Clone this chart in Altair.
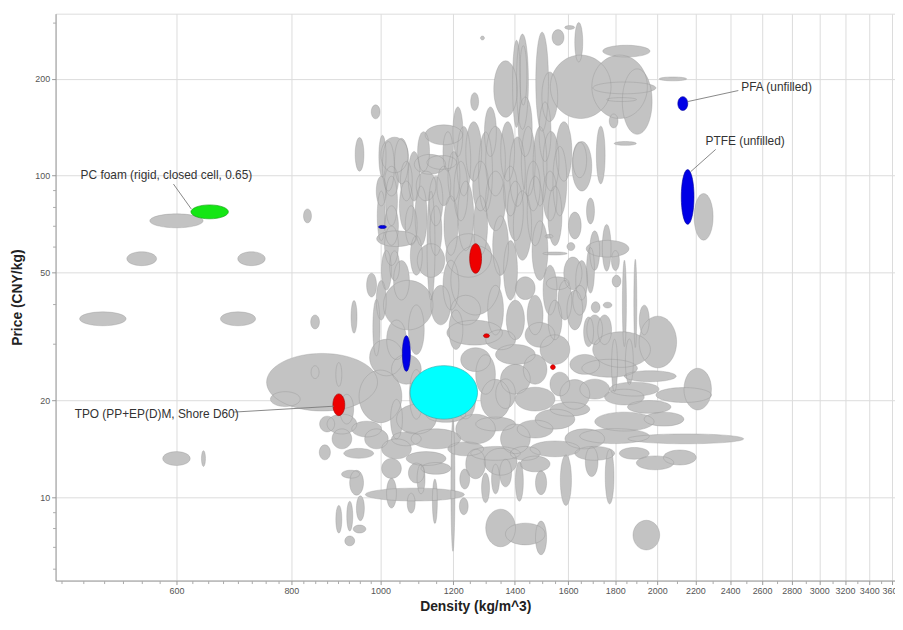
import altair as alt
import pandas as pd

# Each material: (density kg/m^3, price CNY/kg, density spread %, price spread %)
isolated = [
    (600, 72.4, 6.9, 5.1), (550, 55.2, 3.8, 5.1), (724, 55.2, 3.5, 5.1),
    (499, 35.9, 6.0, 5.1), (700, 35.9, 4.5, 5.1), (833, 75.0, 1.0, 5.1),
    (849, 35.1, 1.1, 5.1), (600, 13.2, 3.5, 5.1), (642, 13.2, 0.5, 5.8),
    (1291, 268, 0.5, 1.4), (988, 158, 1.1, 5.1), (1266, 170, 1.0, 6.6),
    (949, 116.5, 1.1, 12.8), (2246, 74.5, 2.4, 18.2), (2080, 200, 3.5, 1.4),
    (1946, 7.63, 3.4, 11.2),
]
upper_right = [
    (1651, 189, 7.9, 25.5), (1820, 189, 7.2, 25.5), (1902, 170, 3.8, 26.4),
    (1842, 187.5, 8.2, 4.3), (1851, 244, 6.1, 4.3), (1829, 172.5, 3.8, 1.4),
    (1793, 148, 1.1, 5.1), (1846, 126, 2.8, 1.4), (1736, 116, 1.1, 22.9),
    (1643, 260, 1.0, 15.2), (1560, 269, 1.5, 5.8), (1606, 289, 1.25, 1.4),
    (1499, 196, 1.6, 42.6), (1528, 176, 2.0, 19.4), (1583, 119, 2.0, 23.7),
    (1647, 112, 1.75, 13.6), (1427, 196, 1.5, 40.6), (1656, 107, 2.5, 19.4),
    (1368, 186, 3.0, 22.4), (1406, 193, 1.0, 36.6), (1430, 205, 0.9, 23.7),
]
upper_band = [
    (1172, 134, 4.8, 7.4), (1132, 108.5, 4.0, 7.4), (1166, 110, 3.8, 5.1),
    (1036, 116, 3.5, 13.6), (1005, 115, 0.9, 16.1), (1232, 111, 1.75, 28.2),
    (1263, 119, 2.0, 23.7), (1301, 103, 1.75, 32.8), (1334, 111, 2.5, 28.2),
    (1375, 119, 1.75, 23.7), (1409, 103, 2.0, 28.2), (1448, 111, 1.75, 28.2),
    (1491, 107, 1.75, 32.8), (1533, 111, 2.0, 23.7), (1567, 96.2, 1.75, 28.2),
    (1202, 99.6, 1.5, 19.4), (1172, 92.9, 1.75, 15.2), (1334, 83.5, 2.5, 23.7),
    (1402, 77.7, 2.0, 23.7), (1473, 77.7, 2.0, 28.2), (1548, 75.0, 1.75, 23.7),
    (1238, 75.0, 2.0, 28.2), (1285, 70.0, 1.75, 23.7), (1193, 70.0, 1.75, 23.7),
    (1149, 67.5, 1.5, 19.4), (1107, 75.0, 1.5, 23.7), (1067, 80.6, 1.75, 19.4),
    (1028, 83.5, 1.5, 19.4), (1002, 75.0, 1.0, 19.4), (1028, 96.2, 1.75, 11.2),
    (1067, 96.2, 1.5, 15.2), (1121, 92.9, 2.5, 11.2), (1002, 89.6, 1.25, 11.2),
    (1020, 107, 1.5, 19.4), (1054, 111, 1.75, 17.7), (1088, 99.6, 1.5, 19.4),
    (1114, 119, 1.5, 15.2), (1149, 83.5, 1.75, 19.4), (1184, 119, 1.25, 15.2),
    (1223, 89.6, 1.75, 23.7), (1080, 70.0, 1.5, 15.2), (1028, 70.0, 1.75, 15.2),
    (1214, 137, 1.25, 19.4), (1317, 137, 1.5, 19.4), (1437, 142, 1.75, 23.7),
    (1510, 137, 1.5, 23.7), (1285, 92.9, 2.0, 19.4), (1385, 89.6, 1.75, 19.4),
    (1466, 92.9, 1.75, 19.4), (1529, 86.5, 1.75, 19.4),
]
middle_band = [
    (1015, 50.8, 1.25, 15.2), (1041, 63.7, 5.1, 5.8), (1072, 39.6, 6.4, 19.4),
    (1135, 54.5, 3.5, 12.8), (1135, 60.6, 1.0, 47.7), (1247, 56.5, 5.9, 16.9),
    (1269, 47.3, 6.4, 28.2), (1351, 60.6, 2.0, 23.7), (1385, 50.8, 1.75, 23.7),
    (1427, 70.0, 2.3, 28.2), (1437, 44.7, 2.5, 8.5), (1491, 58.5, 2.0, 23.7),
    (1529, 44.1, 1.75, 19.4), (1559, 46.3, 2.9, 4.7), (1619, 49.7, 2.3, 12.4),
    (1627, 70.0, 1.6, 10.1), (1692, 77.7, 1.0, 9.7), (1692, 50.8, 1.0, 17.7),
    (1766, 59.3, 5.5, 6.2), (1762, 59.7, 1.1, 18.2), (1801, 54.5, 1.0, 7.4),
    (1806, 47.0, 1.1, 4.3), (1842, 40.1, 0.5, 36.2), (1893, 40.1, 0.37, 37.1),
    (1714, 39.0, 1.1, 4.0), (1766, 39.6, 1.1, 2.1), (1611, 60.2, 1.0, 2.9),
    (1525, 64.8, 1.0, 1.4), (1548, 57.3, 3.1, 1.1), (936, 36.4, 0.75, 12.4),
    (990, 33.7, 0.9, 22.4), (1238, 38.2, 3.8, 11.2), (1163, 39.6, 2.5, 15.2),
    (1334, 38.2, 2.0, 19.4), (1402, 35.6, 2.3, 15.2), (1473, 36.9, 2.0, 15.2),
    (1548, 35.6, 1.75, 15.2), (1627, 38.2, 2.0, 15.2), (1266, 32.5, 7.2, 9.3),
    (1041, 30.9, 2.5, 15.2), (1094, 33.2, 2.0, 19.4), (1036, 52.5, 1.25, 11.2),
    (1094, 56.5, 1.5, 15.2), (978, 45.7, 1.25, 8.9), (1710, 33.2, 2.0, 11.2),
    (1647, 41.0, 1.75, 11.2), (1684, 32.7, 1.25, 11.2),
    (1587, 41.0, 1.75, 15.2), (1655, 47.3, 1.5, 15.2), (1710, 58.5, 1.25, 15.2),
    (1028, 60.6, 1.75, 15.2), (1054, 47.3, 2.0, 15.2), (1002, 41.0, 1.25, 15.2),
    (1193, 45.7, 2.0, 19.4), (1208, 33.2, 1.75, 15.2), (1753, 33.2, 1.75, 11.2),
    (1936, 35.6, 1.25, 11.2),
]
lower_mass = [
    (864, 22.8, 14.9, 22.9), (788, 20.2, 3.8, 5.5), (849, 24.5, 1.0, 4.7),
    (901, 24.1, 0.75, 8.9), (1000, 20.6, 5.5, 20.7), (1015, 27.2, 4.3, 14.0),
    (875, 16.9, 1.9, 5.8), (908, 16.9, 3.8, 7.4), (870, 13.8, 1.4, 5.5),
    (947, 13.7, 3.8, 3.6), (928, 11.8, 2.3, 2.9), (942, 11.1, 1.75, 9.3),
    (1090, 10.2, 13.2, 4.7), (901, 8.55, 0.75, 10.4), (926, 8.74, 0.75, 11.2),
    (951, 9.25, 1.0, 9.3), (949, 7.97, 1.6, 2.9), (926, 7.32, 1.25, 3.6),
    (1146, 9.72, 0.62, 17.3), (1199, 10.9, 0.5, 60.4), (1235, 11.4, 1.25, 7.4),
    (1232, 9.38, 1.1, 6.2), (1351, 8.03, 3.8, 14.4), (1437, 7.69, 5.1, 8.1),
    (1495, 7.48, 1.4, 12.8), (2213, 21.7, 3.5, 16.1), (2137, 20.8, 7.2, 5.5),
    (2148, 15.2, 15.6, 3.6), (2116, 13.3, 4.2, 5.5), (1989, 12.8, 4.8, 5.1),
    (1965, 23.8, 6.7, 4.0), (1960, 19.1, 5.6, 4.7), (1842, 17.2, 7.7, 7.0),
    (1797, 15.5, 9.1, 5.5), (1775, 25.2, 7.2, 6.6), (1842, 20.5, 5.1, 5.8),
    (1797, 25.7, 0.75, 20.7), (1865, 26.4, 1.0, 17.7), (1775, 11.6, 1.1, 21.6),
    (1697, 12.9, 1.6, 11.2), (1591, 11.3, 1.4, 19.8), (1495, 11.1, 1.4, 8.9),
    (1416, 11.2, 1.0, 15.2), (1351, 12.9, 4.2, 10.1), (2003, 30.4, 4.8, 20.3),
    (1829, 28.8, 7.5, 13.6),
]
lower_fill = [
    (1067, 25.0, 3.8, 11.2), (1094, 17.5, 5.1, 11.2), (1149, 15.2, 6.4, 7.4),
    (1269, 16.3, 5.1, 11.2), (1334, 20.2, 3.8, 15.2), (1402, 23.3, 3.8, 11.2),
    (1473, 20.2, 5.1, 8.9), (1548, 17.5, 5.1, 7.4), (1627, 20.9, 3.8, 11.2),
    (1668, 15.2, 5.1, 7.4), (1548, 14.15, 6.4, 5.8), (1402, 15.2, 3.8, 11.2),
    (1334, 13.7, 6.4, 5.1), (1121, 13.2, 5.1, 5.1), (1041, 14.15, 3.8, 7.4),
    (1028, 12.3, 2.5, 7.4), (1094, 11.9, 2.0, 7.4), (1269, 12.7, 2.5, 11.2),
    (1473, 12.7, 3.8, 5.8), (1402, 27.8, 5.1, 7.4), (1548, 28.8, 3.8, 11.2),
    (1668, 25.9, 3.8, 7.4), (1491, 32.0, 3.8, 9.3), (1301, 24.1, 2.5, 15.2),
    (1351, 30.9, 3.8, 7.4), (1238, 20.2, 2.5, 15.2), (1094, 20.9, 1.75, 19.4),
    (1041, 17.5, 1.5, 15.2), (908, 15.2, 2.5, 7.4), (966, 16.3, 3.8, 5.8),
    (919, 18.8, 1.75, 11.2), (1028, 10.3, 1.25, 11.2), (1080, 9.59, 1.0, 7.4),
    (1107, 11.4, 1.0, 11.2), (1301, 10.7, 1.0, 11.2), (1334, 11.4, 1.0, 11.2),
    (1368, 11.9, 1.5, 10.4),
    (1178, 18.1, 5.1, 5.8), (1334, 16.9, 5.1, 5.1), (1473, 16.3, 4.6, 6.6),
    (1607, 18.8, 5.1, 5.1), (1710, 13.7, 5.1, 5.1), (1238, 14.15, 4.6, 5.1),
    (1437, 13.7, 3.8, 5.1), (1067, 15.2, 3.8, 5.1), (990, 15.2, 3.0, 7.4),
    (1149, 12.3, 3.8, 4.3), (1888, 21.7, 6.4, 5.1), (2034, 17.5, 5.1, 5.1),
    (1710, 21.7, 3.8, 7.4), (1888, 13.7, 3.8, 4.3), (1269, 26.8, 3.8, 8.9),
    (1368, 21.0, 2.5, 11.2), (1473, 25.0, 3.0, 11.2), (1567, 22.5, 2.5, 8.9),
]

# highlighted materials: (density, price, density spread %, price spread %, fill, stroke)
highlighted = [
    (652, 77.2, 4.8, 5.1, "#14e614", "#0c9a0c"),
    (2132, 167.6, 1.25, 5.1, "#0000e6", "#00009a"),
    (2158, 85.9, 1.6, 21.6, "#0000e6", "#00009a"),
    (1005, 69.3, 1.0, 1.1, "#0000e6", "#00009a"),
    (1067, 28.0, 1.0, 13.6, "#0000e6", "#00009a"),
    (901, 19.4, 1.5, 8.1, "#ee0000", "#a00000"),
    (1269, 55.3, 1.5, 11.2, "#ee0000", "#a00000"),
    (1304, 31.8, 0.75, 1.4, "#ee0000", "#a00000"),
    (1540, 25.4, 0.6, 1.8, "#ee0000", "#a00000"),
    (1172, 21.2, 8.8, 21.1, "#00ffff", "#2aa8a8"),
]

label_texts = ["PC foam (rigid, closed cell, 0.65)", "TPO (PP+EP(D)M, Shore D60)",
               "PFA (unfilled)", "PTFE (unfilled)"]
label_density = [472, 465, 2468, 2257]
label_price = [100.4, 18.2, 189, 128]
leader_d1 = [595.5, 691, 2158, 2175]
leader_p1 = [94.2, 18.4, 170, 103]
leader_d2 = [622.7, 890, 2450, 2315]
leader_p2 = [78.8, 19.2, 184, 120.7]

x_ticks = [600, 800] + list(range(1000, 3601, 200))
x_minor = ([v for v in range(450, 1000, 25) if v not in (600, 800)]
           + [v for v in range(1050, 2000, 50) if v % 200 != 0]
           + [v for v in range(2100, 3600, 100) if v % 200 != 0])
y_ticks = [10, 20, 50, 100, 200]
y_minor = [6, 7, 8, 9, 30, 40, 60, 70, 80, 90, 300]

cols = ["d", "p", "dx", "dy"]
gray_df = pd.DataFrame(isolated + upper_right + upper_band + middle_band
                       + lower_mass + lower_fill, columns=cols)
hl_df = pd.DataFrame(highlighted, columns=cols + ["fill", "stroke"])
lab_df = pd.DataFrame({"t": label_texts, "d": label_density, "p": label_price})
lead_df = pd.DataFrame({"d1": leader_d1, "p1": leader_p1, "d2": leader_d2, "p2": leader_p2})

xscale = alt.Scale(type="log", domain=[443.3, 3627], nice=False)
yscale = alt.Scale(type="log", domain=[5.51, 319], nice=False)
FONT = "Liberation Sans"

xaxis = alt.Axis(values=x_ticks, format="d", title="Density (kg/m^3)", grid=True,
                 labelFontSize=9, labelColor="#555", labelFont=FONT, tickSize=4,
                 titleFont=FONT, titleFontSize=14, titleFontWeight="bold",
                 titleColor="#222", gridColor="#dcdcdc", domainColor="#999",
                 tickColor="#999", labelFlush=False)
yaxis = alt.Axis(values=y_ticks, format="d", title="Price (CNY/kg)", grid=True,
                 labelFontSize=9, labelColor="#555", labelFont=FONT, tickSize=4,
                 titleFont=FONT, titleFontSize=14, titleFontWeight="bold",
                 titleColor="#222", gridColor="#dcdcdc", domainColor="#999",
                 tickColor="#999", titlePadding=10)

K = 0.5523
def num(e):
    return f"(round(({e})*10000)/10000)"
pts = [("-datum.a", "0"),
       ("-datum.a", f"-{K}*datum.b"), (f"-{K}*datum.a", "-datum.b"), ("0", "-datum.b"),
       (f"{K}*datum.a", "-datum.b"), ("datum.a", f"-{K}*datum.b"), ("datum.a", "0"),
       ("datum.a", f"{K}*datum.b"), (f"{K}*datum.a", "datum.b"), ("0", "datum.b"),
       (f"-{K}*datum.a", "datum.b"), ("-datum.a", f"{K}*datum.b"), ("-datum.a", "0")]
parts = ["'M '", num(pts[0][0]), "' '", num(pts[0][1])]
for i in range(4):
    parts.append("' C '")
    for j in range(3):
        px, py = pts[1 + 3 * i + j]
        parts += [num(px), "' '", num(py), "' '"]
parts.append("'Z'")
shape_expr = " + ".join(parts)


def ellipse_base(df):
    return (alt.Chart(df)
            .transform_calculate(lox="datum.d/(1+datum.dx/100)",
                                 hix="datum.d*(1+datum.dx/100)",
                                 loy="datum.p/(1+datum.dy/100)",
                                 hiy="datum.p*(1+datum.dy/100)")
            .transform_calculate(pw="abs(scale('x', datum.hix) - scale('x', datum.lox))",
                                 ph="abs(scale('y', datum.loy) - scale('y', datum.hiy))")
            .transform_calculate(m="max(datum.pw, datum.ph, 0.5)")
            .transform_calculate(a="datum.pw/datum.m", b="datum.ph/datum.m")
            .transform_calculate(shp=shape_expr, sz="datum.m*datum.m"))


enc_common = dict(
    shape=alt.Shape("shp:N", scale=None, legend=None),
    size=alt.Size("sz:Q", scale=None, legend=None),
)
X0 = alt.X("d:Q", axis=None)
Y0 = alt.Y("p:Q", axis=None)

gray_fill = ellipse_base(gray_df).mark_point(
    filled=True, fill="#c3c3c3", fillOpacity=1, strokeWidth=0, clip=True
).encode(x=alt.X("d:Q", scale=xscale, axis=xaxis),
         y=alt.Y("p:Q", scale=yscale, axis=yaxis), **enc_common)

gray_line = ellipse_base(gray_df).mark_point(
    filled=False, stroke="#8c8c8c", strokeWidth=0.6, strokeOpacity=0.75, clip=True
).encode(x=X0, y=Y0, **enc_common)

hl = ellipse_base(hl_df).mark_point(
    filled=True, fillOpacity=1, strokeWidth=0.6, clip=True
).encode(x=X0, y=Y0,
         fill=alt.Fill("fill:N", scale=None, legend=None),
         stroke=alt.Stroke("stroke:N", scale=None, legend=None), **enc_common)

leaders = alt.Chart(lead_df).mark_rule(color="#7a7a7a", strokeWidth=0.9).encode(
    x=alt.X("d1:Q", axis=None), y=alt.Y("p1:Q", axis=None), x2="d2:Q", y2="p2:Q")

labels = alt.Chart(lab_df).mark_text(
    align="left", baseline="middle", font=FONT, fontSize=12, color="#333"
).encode(x=X0, y=Y0, text="t:N")

minor = alt.Chart(gray_df).mark_point(opacity=0).encode(
    x=alt.X("d:Q", axis=alt.Axis(values=x_minor, labels=False, title=None, grid=False,
                                  domain=False, tickSize=3, tickColor="#aaa",
                                  orient="bottom")),
    y=alt.Y("p:Q", axis=alt.Axis(values=y_minor, labels=False, title=None, grid=False,
                                  domain=False, tickSize=3, tickColor="#aaa",
                                  orient="left")))

chart = (alt.layer(gray_fill, gray_line, hl, leaders, labels, minor)
         .resolve_axis(x="independent", y="independent")
         .properties(width=847, height=572,
                     autosize=alt.AutoSizeParams(type="none"),
                     padding={"left": 48, "top": 3, "right": 0, "bottom": 32})
         .configure_view(stroke="#b5b5b5", strokeWidth=1)
         .configure(background="white"))

chart.save("out.html", embed_options={"renderer": "svg", "actions": False})
